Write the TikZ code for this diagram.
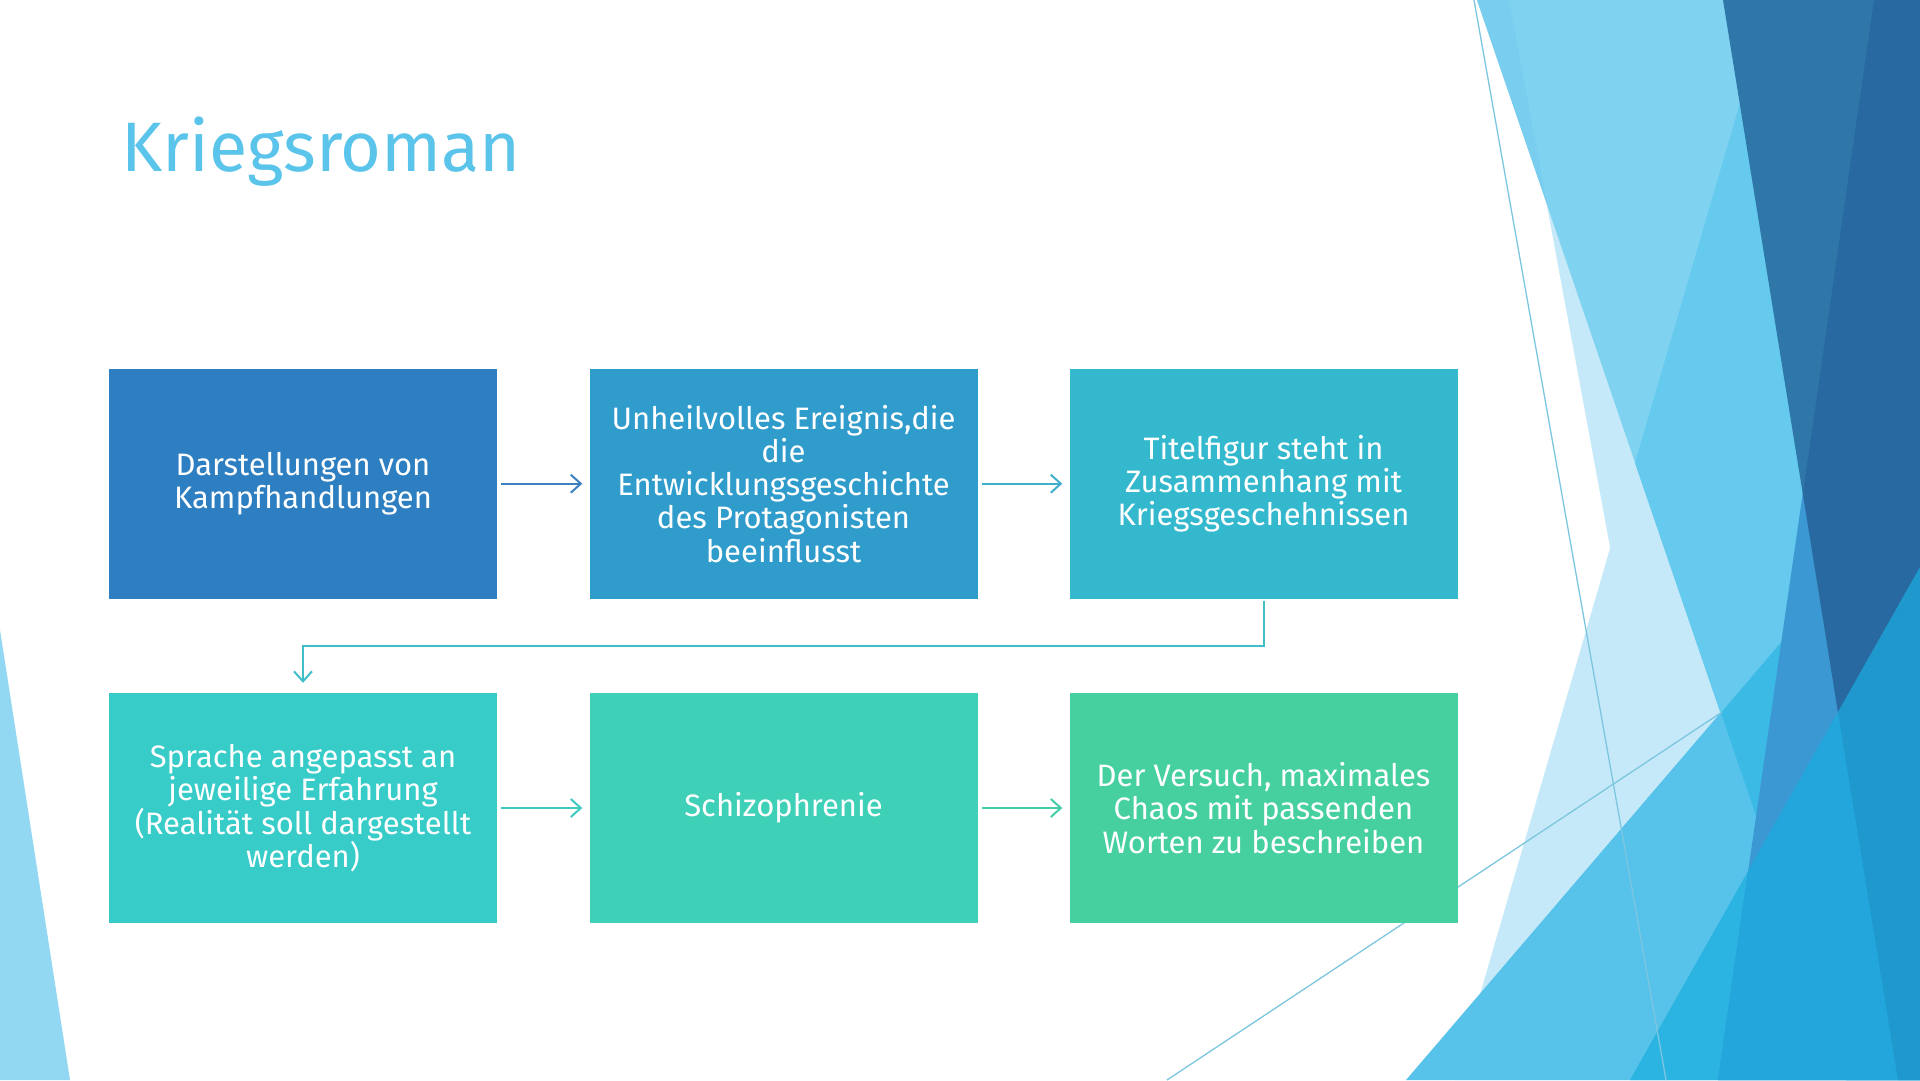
\documentclass[tikz,border=0pt]{standalone}
\usepackage{fontspec}
\setmainfont{Fira Sans}
\usetikzlibrary{arrows.meta}

\definecolor{titleblue}{HTML}{5BC4EA}
\definecolor{boxa}{HTML}{2E7FC1}
\definecolor{boxb}{HTML}{309CCB}
\definecolor{boxc}{HTML}{33B8CD}
\definecolor{boxd}{HTML}{38CCC9}
\definecolor{boxe}{HTML}{3FD0B8}
\definecolor{boxf}{HTML}{46D0A0}
\definecolor{arra}{HTML}{3C80C0}
\definecolor{arrb}{HTML}{40AECD}
\definecolor{arrc}{HTML}{3FBEC9}
\definecolor{arrd}{HTML}{3FCBC0}
\definecolor{arre}{HTML}{45CDA8}
\definecolor{facetpale}{HTML}{C5E9F8}
\definecolor{facetlight}{HTML}{80D2F1}
\definecolor{facetlightb}{HTML}{79CDEE}
\definecolor{facetmid}{HTML}{65CAEE}
\definecolor{facetsky}{HTML}{57C3EB}
\definecolor{facetskyb}{HTML}{3BBAE6}
\definecolor{facetcyan}{HTML}{2BB3E2}
\definecolor{facetsteel}{HTML}{3B98D2}
\definecolor{facetblue}{HTML}{22A6DC}
\definecolor{facetdark}{HTML}{2E77A8}
\definecolor{facetdarker}{HTML}{2769A0}
\definecolor{facetdeep}{HTML}{1F98CD}
\definecolor{facetline}{HTML}{7CC6E0}
\definecolor{facetleft}{HTML}{92D8F2}

\tikzset{
  flowbox/.style={minimum width=388pt, minimum height=230pt, inner sep=0pt,
    text=white, align=center, font=\fontsize{31}{33.3}\selectfont},
  flowarrow/.style={line width=2pt, -{Straight Barb[length=10pt,width=18pt]},
    shorten <=4pt, shorten >=7pt},
  facetedge/.style={draw=facetline, line width=1.3pt}
}

\begin{document}
\begin{tikzpicture}[x=1pt,y=-1pt]
\useasboundingbox (0,0) rectangle (1920,1080);
\fill [white] (0,0) rectangle (1920,1080);
\fill [facetleft] (0,630) -- (70,1080) -- (0,1080) -- cycle;
\fill [facetpale] (1770,0) -- (1920,0) -- (1920,1080) -- (1455,1080) -- cycle;
\fill [facetpale] (1509,0) -- (1800,0) -- (1800,547) -- (1610,547) -- cycle;
\fill [facetlight] (1477,0) -- (1920,0) -- (1920,1080) -- (1846,1080) -- cycle;
\fill [facetlightb] (1477,0) -- (1509,0) -- (1547,204) -- cycle;
\fill [facetmid] (1770,0) -- (1920,0) -- (1920,1080) -- (1846,1080) -- (1635,463) -- cycle;
\fill [facetsky] (1406,1080) -- (1830,585) -- (1920,480) -- (1920,1080) -- cycle;
\fill [facetskyb] (1721,713) -- (1920,480) -- (1920,1080) -- (1846,1080) -- cycle;
\fill [facetcyan] (1630,1080) -- (1920,567) -- (1920,1080) -- cycle;
\fill [facetsteel] (1874,0) -- (1920,0) -- (1920,1080) -- (1718,1080) -- cycle;
\fill [facetblue] (1748,871) -- (1920,567) -- (1920,1080) -- (1718,1080) -- cycle;
\fill [facetdark] (1723,0) -- (1920,0) -- (1920,567) -- (1838,712) -- cycle;
\fill [facetdarker] (1874,0) -- (1920,0) -- (1920,567) -- (1838,712) -- (1803,493) -- cycle;
\fill [facetdeep] (1838,712) -- (1920,567) -- (1920,1080) -- (1898,1080) -- cycle;
\draw [facetedge] (1474,0) -- (1666,1080);
\draw [facetedge] (1167,1080) -- (1722,712);

\node [anchor=base west, text=titleblue, inner sep=0pt, font=\fontsize{70}{78}\selectfont] (title) at (121,171) {Kriegsroman};

\node [flowbox, fill=boxa] (kampf) at (303,483.7) {Darstellungen von\\Kampfhandlungen};
\node [flowbox, fill=boxb] (ereignis) at (783.5,483.7) {Unheilvolles Ereignis,die\\die\\Entwicklungsgeschichte\\des Protagonisten\\beeinflusst};
\node [flowbox, fill=boxc] (titelfigur) at (1263.5,483.7) {Titelfigur steht in\\Zusammenhang mit\\Kriegsgeschehnissen};
\node [flowbox, fill=boxd] (sprache) at (303,808) {Sprache angepasst an\\jeweilige Erfahrung\\(Realität soll dargestellt\\werden)};
\node [flowbox, fill=boxe] (schizo) at (783.5,808) {Schizophrenie};
\node [flowbox, fill=boxf] (chaos) at (1263.5,808) {Der Versuch, maximales\\Chaos mit passenden\\Worten zu beschreiben};

\draw [flowarrow, arra] (kampf) -- (ereignis);
\draw [flowarrow, arrb] (ereignis) -- (titelfigur);
\draw [flowarrow, arrc, shorten <=2pt, shorten >=10pt] (titelfigur.south) -- ++(0,47) -| (sprache.north);
\draw [flowarrow, arrd] (sprache) -- (schizo);
\draw [flowarrow, arre] (schizo) -- (chaos);
\end{tikzpicture}
\end{document}
